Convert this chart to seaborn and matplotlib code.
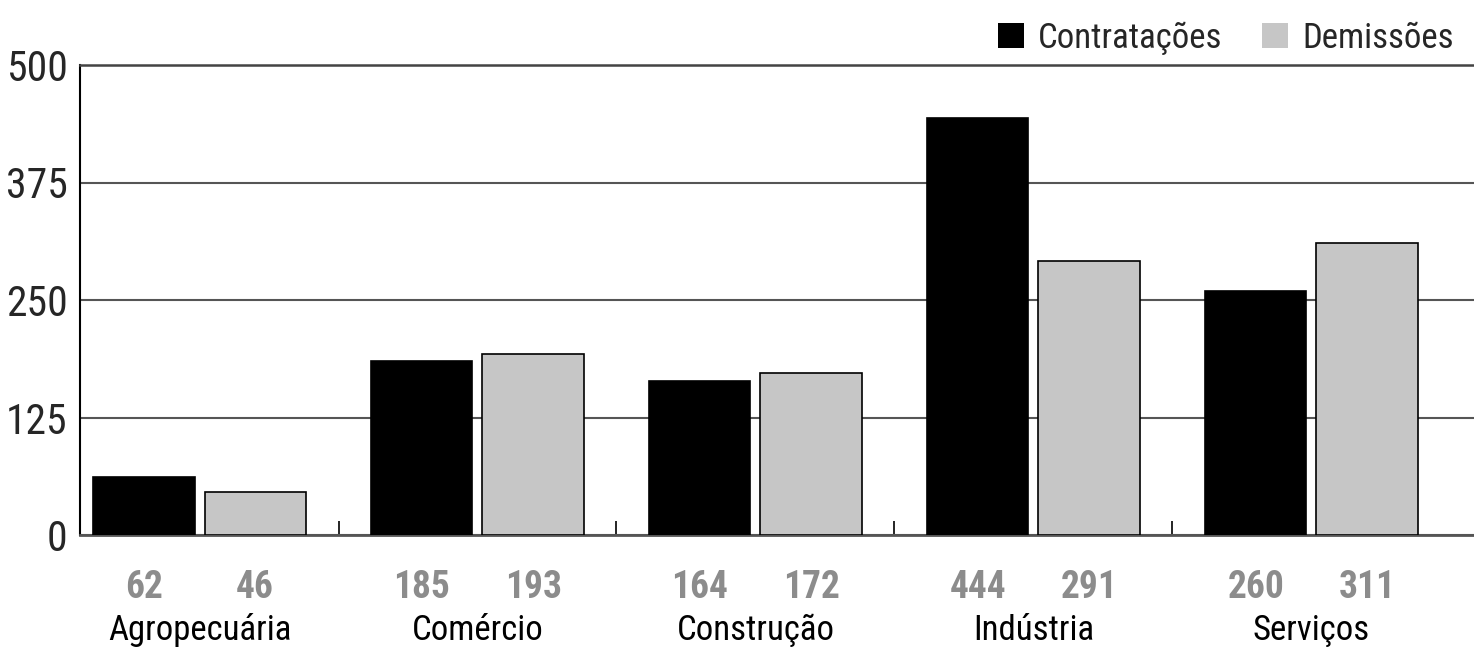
import matplotlib
matplotlib.use('Agg')
import matplotlib.pyplot as plt
import seaborn as sns
import pandas as pd
from matplotlib import font_manager as fm
from matplotlib.patches import Patch
from matplotlib.ticker import FixedLocator
import matplotlib.transforms as mtransforms

# ---- data ----
categories = ['Agropecuária', 'Comércio', 'Construção', 'Indústria', 'Serviços']
contratacoes = [62, 185, 164, 444, 260]
demissoes = [46, 193, 172, 291, 311]
series_names = ['Contratações', 'Demissões']
y_ticks = [0, 125, 250, 375, 500]

sns.set_theme(style='white')
FAMILY = ['Roboto Condensed', 'DejaVu Sans']
plt.rcParams['font.family'] = FAMILY


def fp(size, weight='normal'):
    return fm.FontProperties(family=FAMILY, size=size, weight=weight)


# ---- data frame ----
df = pd.DataFrame({
    'categoria': categories * 2,
    'serie': [series_names[0]] * len(categories) + [series_names[1]] * len(categories),
    'valor': contratacoes + demissoes,
})

colors = {'Contratações': '#000000', 'Demissões': '#c6c6c6'}

fig = plt.figure(figsize=(14.74, 6.47), dpi=100)
ax = fig.add_axes([80 / 1474, 1 - 535 / 647, 1 - 80 / 1474, (535 - 65) / 647])

sns.barplot(data=df, x='categoria', y='valor', hue='serie', order=categories,
            hue_order=series_names, palette=colors, edgecolor='black', linewidth=1.2,
            width=0.8, gap=0.09, errorbar=None, legend=False, ax=ax, zorder=3)

ax.set_ylim(0, 500)
ax.set_xlim(-0.43, 4.585)
ax.set_yticks(y_ticks)
ax.set_yticklabels([str(t) for t in y_ticks], fontproperties=fp(30))
ax.tick_params(axis='y', length=0, pad=9)

ax.yaxis.grid(True, color='#555555', linewidth=1.5, zorder=0)
ax.set_axisbelow(True)

ax.set_xticks(range(len(categories)))
ax.set_xticklabels([''] * len(categories))
ax.tick_params(axis='x', which='major', length=0)
ax.xaxis.set_minor_locator(FixedLocator([i + 0.5 for i in range(len(categories) - 1)]))
ax.tick_params(axis='x', which='minor', direction='in', length=10, width=1.2, color='black', bottom=True)

ax.set_xlabel('')
ax.set_ylabel('')

ax.spines['right'].set_visible(False)
ax.spines['top'].set_color('#444444')
ax.spines['top'].set_linewidth(1.8)
ax.spines['bottom'].set_color('#555555')
ax.spines['bottom'].set_linewidth(2)
ax.spines['left'].set_color('black')
ax.spines['left'].set_linewidth(1.5)

trans = mtransforms.blended_transform_factory(ax.transData, ax.transAxes)
# value labels under each bar
for cont, vals in zip(ax.containers, [contratacoes, demissoes]):
    for bar, v in zip(cont, vals):
        cx = bar.get_x() + bar.get_width() / 2
        ax.text(cx, -0.134, str(v), transform=trans, ha='center', va='baseline',
                color='#8c8c8c', fontproperties=fp(27, 'bold'), clip_on=False)

# category labels
for i, c in enumerate(categories):
    ax.text(i, -0.2234, c, transform=trans, ha='center', va='baseline',
            color='black', fontproperties=fp(25), clip_on=False)

handles = [Patch(facecolor=colors[s], edgecolor='none', label=s) for s in series_names]
leg = ax.legend(handles=handles, loc='lower right', bbox_to_anchor=(0.993, 1.0),
                ncol=2, frameon=False, prop=fp(25), handlelength=0.75, handleheight=0.75,
                handletextpad=0.4, columnspacing=1.15, borderaxespad=0.1, borderpad=0.2)

fig.savefig('out.png', dpi=100)
